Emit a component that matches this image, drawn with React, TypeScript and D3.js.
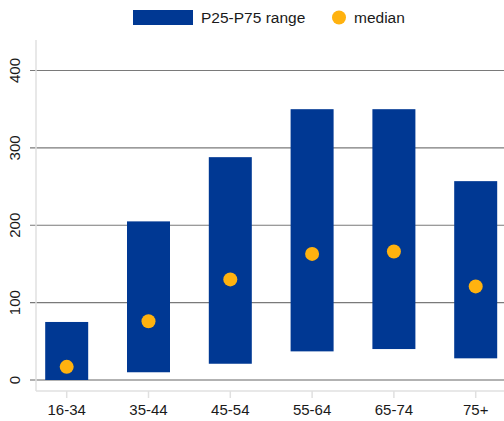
import { useEffect, useRef } from "react";
import * as d3 from "d3";

const categories = ["16-34", "35-44", "45-54", "55-64", "65-74", "75+"];
const p25 = [0, 10, 21, 37, 40, 28];
const p75 = [75, 205, 288, 350, 350, 257];
const median = [17, 76, 130, 163, 166, 121];
const yTicks = [0, 100, 200, 300, 400];

const W = 504;
const H = 421;
const BAR = 43;
const BLUE = "#003893";
const GOLD = "#FFB20F";
const FONT = "'Liberation Sans', Arial, sans-serif";

export default function App() {
  const ref = useRef<SVGSVGElement | null>(null);

  useEffect(() => {
    const svg = d3.select(ref.current);
    svg.selectAll("*").remove();

    const x = d3.scalePoint<string>().domain(categories).range([66.7, 475.7]);
    const y = d3.scaleLinear().domain([0, 400]).range([380, 70.5]);
    const axisX = 36;

    // grid
    svg
      .append("g")
      .selectAll("line")
      .data(yTicks)
      .join("line")
      .attr("x1", axisX - 6)
      .attr("x2", W)
      .attr("y1", (d) => y(d))
      .attr("y2", (d) => y(d))
      .attr("stroke", (d) => (d === 0 ? "#666" : "#7a7a7a"))
      .attr("stroke-width", 1.2);

    // left axis line
    svg
      .append("line")
      .attr("x1", axisX)
      .attr("x2", axisX)
      .attr("y1", 40)
      .attr("y2", 391)
      .attr("stroke", "#e0e0e0")
      .attr("stroke-width", 1.5);

    // bottom axis
    svg
      .append("line")
      .attr("x1", axisX)
      .attr("x2", W)
      .attr("y1", 391)
      .attr("y2", 391)
      .attr("stroke", "#e0e0e0")
      .attr("stroke-width", 1.5);

    svg
      .append("g")
      .selectAll("line")
      .data(categories)
      .join("line")
      .attr("x1", (d) => x(d)!)
      .attr("x2", (d) => x(d)!)
      .attr("y1", 391)
      .attr("y2", 398)
      .attr("stroke", "#e0e0e0")
      .attr("stroke-width", 1.5);

    // y labels (rotated)
    svg
      .append("g")
      .selectAll("text")
      .data(yTicks)
      .join("text")
      .attr("transform", (d) => `translate(20,${y(d)}) rotate(-90)`)
      .attr("text-anchor", "middle")
      .attr("font-family", FONT)
      .attr("font-size", 15)
      .attr("fill", "#1a1a1a")
      .text((d) => d);

    // x labels
    svg
      .append("g")
      .selectAll("text")
      .data(categories)
      .join("text")
      .attr("x", (d) => x(d)!)
      .attr("y", 415)
      .attr("text-anchor", "middle")
      .attr("font-family", FONT)
      .attr("font-size", 15)
      .attr("fill", "#1a1a1a")
      .text((d) => d);

    // bars
    svg
      .append("g")
      .selectAll("rect")
      .data(categories)
      .join("rect")
      .attr("x", (d) => x(d)! - BAR / 2)
      .attr("y", (_, i) => y(p75[i]))
      .attr("width", BAR)
      .attr("height", (_, i) => y(p25[i]) - y(p75[i]))
      .attr("fill", BLUE);

    // medians
    svg
      .append("g")
      .selectAll("circle")
      .data(categories)
      .join("circle")
      .attr("cx", (d) => x(d)!)
      .attr("cy", (_, i) => y(median[i]))
      .attr("r", 7)
      .attr("fill", GOLD);

    // legend
    const lg = svg.append("g").attr("font-family", FONT).attr("font-size", 15.5).attr("fill", "#1a1a1a");
    lg.append("rect").attr("x", 133).attr("y", 10).attr("width", 60).attr("height", 15).attr("fill", BLUE);
    lg.append("text").attr("x", 201).attr("y", 23).text("P25-P75 range");
    lg.append("circle").attr("cx", 339).attr("cy", 17.5).attr("r", 7).attr("fill", GOLD);
    lg.append("text").attr("x", 354).attr("y", 23).text("median");
  }, []);

  return (
    <svg
      ref={ref}
      width={W}
      height={H}
      style={{ position: "absolute", left: 0, top: 0, background: "#fff" }}
    />
  );
}
